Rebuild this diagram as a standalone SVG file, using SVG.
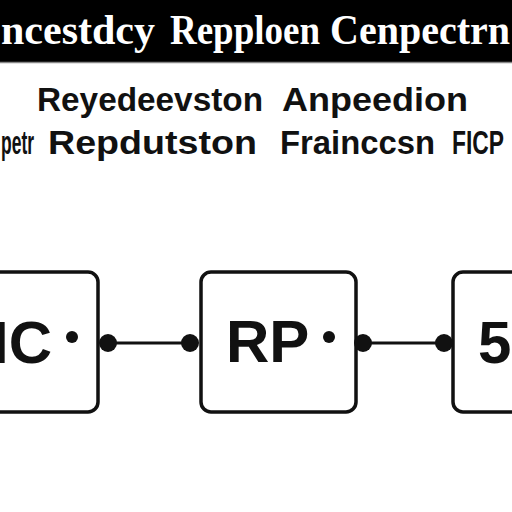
<svg xmlns="http://www.w3.org/2000/svg" width="512" height="512" viewBox="0 0 512 512">
<style>
.hdr{font-family:"Liberation Serif",serif;font-weight:bold;font-size:42px;fill:#fff}
.sub{font-family:"Liberation Sans",Arial,sans-serif;font-weight:bold;font-size:33px;fill:#111}
.box{fill:#fff;stroke:#111;stroke-width:3.5}
.lbl{font-family:"Liberation Sans",Arial,sans-serif;font-weight:bold;font-size:60px;fill:#111}
.dot{fill:#111}
.wire{stroke:#111;stroke-width:3;fill:none}
</style>
<rect width="512" height="512" fill="#fff"/>
<g id="header">
<rect x="0" y="0" width="512" height="62" fill="#000"/>
<line x1="0" y1="62.5" x2="512" y2="62.5" stroke="#888" stroke-width="1.5"/>
<text class="hdr" x="1" y="44" textLength="154" lengthAdjust="spacingAndGlyphs">ncestdcy</text>
<text class="hdr" x="170" y="44" textLength="150" lengthAdjust="spacingAndGlyphs">Repploen</text>
<text class="hdr" x="330" y="44" textLength="180" lengthAdjust="spacingAndGlyphs">Cenpectrn</text>
</g>
<g id="subtitle">
<text class="sub" x="37" y="111" textLength="226" lengthAdjust="spacingAndGlyphs">Reyedeevston</text>
<text class="sub" x="282" y="111" textLength="186" lengthAdjust="spacingAndGlyphs">Anpeedion</text>
<text class="sub" x="1" y="154" textLength="33" lengthAdjust="spacingAndGlyphs">petr</text>
<text class="sub" x="48" y="154" textLength="209" lengthAdjust="spacingAndGlyphs">Repdutston</text>
<text class="sub" x="280" y="154" textLength="155" lengthAdjust="spacingAndGlyphs">Frainccsn</text>
<text class="sub" x="452" y="154" textLength="52" lengthAdjust="spacingAndGlyphs">FICP</text>
</g>
<g id="node-ic">
<rect class="box" x="-20" y="272" width="118" height="140" rx="10"/>
<text class="lbl" x="-8" y="363">IC</text>
<circle class="dot" cx="72" cy="337" r="6"/>
</g>
<g id="node-rp">
<rect class="box" x="201" y="272" width="155" height="140" rx="10"/>
<text class="lbl" x="226" y="362" font-size="56">RP</text>
<circle class="dot" cx="329" cy="337" r="6"/>
</g>
<g id="node-5">
<rect class="box" x="453" y="272" width="90" height="140" rx="10"/>
<text class="lbl" x="478" y="363">5</text>
</g>
<g id="connectors">
<line class="wire" x1="108" y1="343" x2="190" y2="343"/>
<circle class="dot" cx="108" cy="343" r="9"/>
<circle class="dot" cx="190" cy="343" r="9"/>
<line class="wire" x1="363" y1="343" x2="444" y2="343"/>
<circle class="dot" cx="363" cy="343" r="9"/>
<circle class="dot" cx="444" cy="343" r="9"/>
</g>
</svg>
